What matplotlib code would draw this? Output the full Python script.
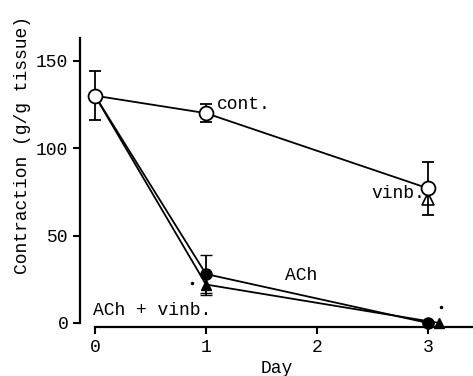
import numpy as np
import matplotlib.pyplot as plt

# values
days = [0, 1, 3]
cont = [130, 120, 77]
cont_err = [14, 5, 15]
ach = [130, 28, 0]
ach_err = [0, 11, 0]
ach_vinb = [130, 22, 0]
ach_vinb_err = [0, 6, 0]
vinb_day3 = 71
ach_vinb_day3_x = 3.1

plt.rcParams['font.family'] = ['Liberation Mono', 'DejaVu Sans Mono']
plt.rcParams['font.size'] = 13

fig = plt.figure(figsize=(4.73, 3.76), dpi=100)
ax = fig.add_axes([0.169, 0.141, 0.831, 0.758])

# ACh + vinb (filled triangles)
ax.errorbar(days[:2], ach_vinb[:2], yerr=ach_vinb_err[:2], color='black', lw=1.3,
            marker='^', ms=7, capsize=4, elinewidth=1.3, clip_on=False)
ax.plot([days[1], ach_vinb_day3_x], [ach_vinb[1], ach_vinb[2]], color='black', lw=1.3)
ax.plot(ach_vinb_day3_x, ach_vinb[2], marker='^', ms=7, color='black', clip_on=False)

# ACh (filled circles)
ax.errorbar(days, ach, yerr=ach_err, color='black', lw=1.3, marker='o', ms=8,
            capsize=4, elinewidth=1.3, clip_on=False)

# vinb at day 3 (open triangle)
ax.plot(days[2], vinb_day3, marker='^', ms=8, mfc='white', mec='black', mew=1.2,
        clip_on=False, zorder=4)

# control (open circles)
ax.errorbar(days, cont, yerr=cont_err, color='black', lw=1.3, marker='o', ms=10,
            mfc='white', mec='black', mew=1.3, capsize=4, elinewidth=1.3,
            zorder=5, clip_on=False)

# significance marks
ax.plot([0.87, 3.12], [23, 9], ls='none', marker='.', ms=3, color='black')

ax.text(1.1, 125, 'cont.', ha='left', va='center')
ax.text(2.97, 74, 'vinb.', ha='right', va='center')
ax.text(1.86, 27, 'ACh', ha='center', va='center')
ax.text(-0.02, 7, 'ACh + vinb.', ha='left', va='center')

ax.set_xlim(-0.135, 3.405)
ax.set_ylim(0, 163)
ax.set_xticks([0, 1, 2, 3])
ax.set_yticks([0, 50, 100, 150])
ax.spines['top'].set_visible(False)
ax.spines['right'].set_visible(False)
ax.spines['bottom'].set_position(('outward', 3))
ax.spines['bottom'].set_bounds(0, 3.405)
ax.spines['left'].set_bounds(0, 163)
for s in ['left', 'bottom']:
    ax.spines[s].set_linewidth(1.6)
ax.tick_params(axis='both', direction='out', length=5, width=1.5, labelsize=13)
ax.set_xlabel('Day', labelpad=3)
ax.set_ylabel('Contraction (g/g tissue)')
ax.yaxis.set_label_coords(-0.125, 0.625)

fig.savefig('out.png', dpi=100)
